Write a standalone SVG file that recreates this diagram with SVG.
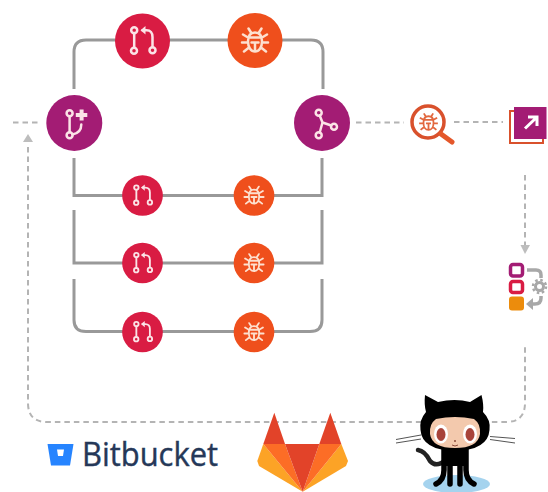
<svg xmlns="http://www.w3.org/2000/svg" xmlns:xlink="http://www.w3.org/1999/xlink" width="548" height="492" viewBox="0 0 548 492">
<style>
.solid{fill:none;stroke:#999;stroke-width:3}
.dash{fill:none;stroke:#b4b4b4;stroke-width:2;stroke-dasharray:5.500 4}
.head{fill:#bdbdbd}
.ico{fill:none;stroke:#fbe3e6;stroke-width:2.500;stroke-linecap:round;stroke-linejoin:round}
.bug{fill:none;stroke:#fde0cf;stroke-width:2.500;stroke-linecap:round;stroke-linejoin:round}
.pr{fill:#d91c43}.or{fill:#ef4f1c}.pu{fill:#a31c74}
.g{fill:none;stroke:#a8a8a8;stroke-width:3.500}
</style>
<defs>
<g id="prIcon">
<path class="ico" d="M-8.300-8V6.500"/><circle class="ico" cx="-8.300" cy="-10.700" r="3"/><circle class="ico" cx="-8.500" cy="9.700" r="3"/><circle class="ico" cx="10" cy="9.300" r="3"/>
<path class="ico" d="M10 6V-4Q10-10.700 4-10.700H0"/><path d="M-2-10.700 3-15V-6.500Z" fill="#fbe3e6"/>
</g>
<g id="bugIcon">
<path class="bug" d="M0-8C-5-8-7-4-7 1C-7 7-4 11 0 11C4 11 7 7 7 1C7-4 5-8 0-8ZM-7-3H7M-3.500 2H3.500M0 2V11M-4-8-6.500-12M4-8 6.500-12M-7-3-12-6M7-3 12-6M-7 2H-13M7 2H13M-6 7-11 11M6 7 11 11"/>
</g>
<g id="prNode"><circle class="pr" r="27.500"/><use xlink:href="#prIcon" href="#prIcon"/></g>
<g id="bugNode"><circle class="or" r="27.500"/><use xlink:href="#bugIcon" href="#bugIcon"/></g>
</defs>
<rect width="548" height="492" fill="#fff"/>
<g id="connectors">
<path class="solid" d="M74 89V52Q74 40 86 40H311Q323 40 323 52V89"/>
<path class="solid" d="M74 158V195.500H322V158"/>
<path class="solid" d="M74 210V263H322V210"/>
<path class="solid" d="M74 279V320Q74 331.500 86 331.500H310Q322 331.500 322 320V279"/>
<path class="dash" d="M13 122.500H40"/>
<path class="dash" d="M356 122.500H404"/>
<path class="dash" d="M454 122H503"/>
<path class="dash" d="M525 175V245"/>
<path class="dash" d="M28 147V403Q28 422 47 422H506Q525 422 525 403V347"/>
<path class="head" d="M28 134 33 142H23Z"/>
<path class="head" d="M525 254 520.500 245H530Z"/>
</g>
<g id="pr-top" transform="translate(142.500 41)"><use xlink:href="#prNode" href="#prNode"/></g>
<g id="bug-top" transform="translate(255 40.500)"><use xlink:href="#bugNode" href="#bugNode"/></g>
<g id="branch"><circle class="pu" cx="74.300" cy="123" r="28"/>
<g transform="translate(74.300 123)"><circle class="ico" cx="-4.700" cy="-9.700" r="3"/><circle class="ico" cx="-4.700" cy="12.300" r="3"/><path class="ico" d="M-4.700-6.700V9.300M-2 11.500Q7 10 7 1.500"/><path d="M1.500-8H13M7.300-13.500V-2.500" fill="none" stroke="#fbe3e6" stroke-width="4"/></g></g>
<g id="merge"><circle class="pu" cx="322" cy="123" r="28"/>
<g transform="translate(322 123)"><circle class="ico" cx="-3.300" cy="-10.300" r="3"/><circle class="ico" cx="-3.300" cy="12.300" r="3"/><circle class="ico" cx="12" cy="3.700" r="3"/><path class="ico" d="M-2.300-7.500 0.500-0.500-2.300 9.500M0.500-0.500 9.300 2.500"/></g></g>
<g id="pr-1" transform="translate(142.500 195.500) scale(.74)"><use xlink:href="#prNode" href="#prNode"/></g>
<g id="bug-1" transform="translate(254 195.500) scale(.74)"><use xlink:href="#bugNode" href="#bugNode"/></g>
<g id="pr-2" transform="translate(142.500 263) scale(.74)"><use xlink:href="#prNode" href="#prNode"/></g>
<g id="bug-2" transform="translate(254 263) scale(.74)"><use xlink:href="#bugNode" href="#bugNode"/></g>
<g id="pr-3" transform="translate(142.500 332) scale(.74)"><use xlink:href="#prNode" href="#prNode"/></g>
<g id="bug-3" transform="translate(254 332) scale(.74)"><use xlink:href="#bugNode" href="#bugNode"/></g>
<g id="scan">
<circle cx="428" cy="122" r="16" fill="#fff" stroke="#d9512c" stroke-width="3.500"/>
<path d="M441 134 452 142" stroke="#e4572a" stroke-width="5" stroke-linecap="round" fill="none"/>
<g transform="translate(428.500 122) scale(.72)"><path d="M0-8C-5-8-7-4-7 1C-7 7-4 11 0 11C4 11 7 7 7 1C7-4 5-8 0-8ZM-7-3H7M-3.500 2H3.500M0 2V11M-4-8-6.500-12M4-8 6.500-12M-7-3-12-6M7-3 12-6M-7 2H-13M7 2H13M-6 7-11 11M6 7 11 11" fill="none" stroke="#e2683f" stroke-width="2.500"/></g>
</g>
<g id="export">
<rect x="510" y="111" width="33" height="32" fill="#fff" stroke="#d9512c" stroke-width="2"/>
<rect x="514" y="107" width="32.500" height="32" fill="#a31c74"/>
<path d="M525 128.500 536 118M528 117H537V126" fill="none" stroke="#fff" stroke-width="3"/>
</g>
<g id="process">
<rect x="510.500" y="264.500" width="12" height="11.500" rx="2.500" fill="#fff" stroke="#a31c74" stroke-width="3.500"/>
<rect x="510.500" y="281.500" width="12" height="11" rx="2.500" fill="#fff" stroke="#d91c43" stroke-width="3.500"/>
<rect x="509" y="296.500" width="15" height="14" rx="3" fill="#ec8c0c"/>
<path class="g" d="M527 270H536Q541 270 541 275V278"/>
<circle cx="539.500" cy="286.500" r="4" fill="#fff" stroke="#a8a8a8" stroke-width="3"/>
<circle cx="539.500" cy="286.500" r="6.500" fill="none" stroke="#a8a8a8" stroke-width="2.500" stroke-dasharray="2.500 2.600"/>
<path class="g" d="M541 296V298Q541 304 535 304H531"/>
<path d="M526 304 533 298V310Z" fill="#a8a8a8"/>
</g>
<g id="bitbucket">
<path d="M47.500 444H73.500L70 465.500H51Z" fill="#2684ff"/>
<path d="M57 449.500H64L63 456H58Z" fill="#fff"/>
<text x="82" y="465.500" font-family="'Open Sans','Noto Sans',sans-serif" font-size="32" fill="#253858" stroke="#253858" stroke-width=".4" textLength="136" lengthAdjust="spacingAndGlyphs">Bitbucket</text>
</g>
<g id="gitlab">
<path d="M274.300 412.700 263.300 444H285Z" fill="#e24329"/>
<path d="M330.300 412.700 319.300 444H341.300Z" fill="#e24329"/>
<path d="M263.300 444 257.300 461 259 466 302.700 491.700Z" fill="#fca326"/>
<path d="M341.300 444 348 461 346 466 302.700 491.700Z" fill="#fca326"/>
<path d="M263.300 444H285L302.700 491.700Z" fill="#fc6d26"/>
<path d="M341.300 444H319.300L302.700 491.700Z" fill="#fc6d26"/>
<path d="M285 444H319.300L302.700 491.700Z" fill="#e24329"/>
</g>
<g id="github">
<ellipse cx="456.500" cy="484" rx="33.500" ry="9" fill="#a5d3ee"/>
<path d="M396 439.500 421 435M396 443 421 439M490 436.500 515 438.500M490 439.500 515 443" fill="none" stroke="#555" stroke-width="1"/>
<path d="M418 450Q425 451 430 461Q436 468 446 460" fill="none" stroke="#222" stroke-width="4.500" stroke-linecap="round"/>
<path d="M444 448V470Q444 480 436 484M450 448V484M460 448V484M466 448V470Q466 480 474 484" fill="none" stroke="#000" stroke-width="5.500" stroke-linecap="round"/>
<path d="M444 448H466V466H444Z" fill="#000"/>
<path d="M425 395 438 402Q455 398 470 402L481.500 395Q484 405 483 412Q491 420 489.500 430Q488 450 455 451Q422 450 420.500 430Q419 420 426 412Q424 405 425 395Z" fill="#000"/>
<path d="M436 419Q455 415 474 419Q481 424 480 434Q478 448 455 448Q432 448 430 434Q429 424 436 419Z" fill="#f3c9ad"/>
<ellipse cx="441" cy="434" rx="7" ry="9.500" fill="#fff"/><ellipse cx="470" cy="434" rx="7" ry="9.500" fill="#fff"/>
<ellipse cx="441" cy="434.500" rx="4.500" ry="6.500" fill="#a8433a"/><ellipse cx="470" cy="434.500" rx="4.500" ry="6.500" fill="#a8433a"/>
<circle cx="455" cy="441" r="1" fill="#8a4a3a"/>
<path d="M452 445Q455 447 458 445" fill="none" stroke="#8a4a3a" stroke-width="1"/>
</g>
</svg>
